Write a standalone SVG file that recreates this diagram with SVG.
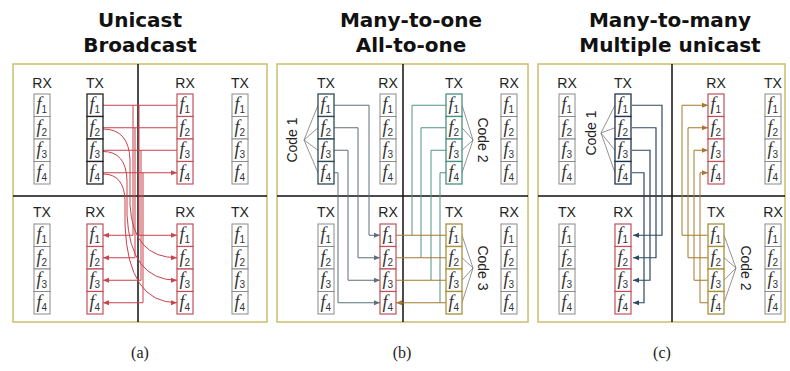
<svg xmlns="http://www.w3.org/2000/svg" width="790" height="371" viewBox="0 0 790 371">
<style>
.t{font-family:"DejaVu Sans",sans-serif;font-weight:bold;font-size:20px;text-anchor:middle;fill:#111}
.cap{font-family:"Liberation Serif",serif;font-size:16px;text-anchor:middle;fill:#222}
.lb{font-family:"Liberation Sans",sans-serif;font-size:14px;text-anchor:middle;fill:#222}
.cd{font-family:"Liberation Sans",sans-serif;font-size:14px;text-anchor:middle;fill:#222}
.fr{fill:#fff;stroke:#cbbd6e;stroke-width:1.5}
.dv{stroke:#111;stroke-width:1.5;fill:none}
.bx{fill:#fff}
.fv{font-family:"Liberation Serif",serif;font-style:italic;font-size:18px;fill:#333}
.sb{font-family:"Liberation Sans",sans-serif;font-size:10px;fill:#333}
.cg{stroke:#8a8a8a;stroke-width:1}
.cr{stroke:#c0505a;stroke-width:1.2}
.ck{stroke:#222;stroke-width:1.3}
.cs{stroke:#2f4a57;stroke-width:1.3}
.ct{stroke:#4a8f80;stroke-width:1.3}
.co{stroke:#a8913e;stroke-width:1.3}
.cn{stroke:#1f3550;stroke-width:1.3}
.lr{stroke:#c8424c;stroke-width:1;fill:none}
.lg{stroke:#5d6f78;stroke-width:1;fill:none}
.lt{stroke:#4f9585;stroke-width:1;fill:none}
.lo{stroke:#a57a2c;stroke-width:1;fill:none}
.ln{stroke:#2d4860;stroke-width:1.2;fill:none}
.lc{stroke:#777;stroke-width:0.8;fill:none}
</style>
<defs>
<marker id="ar" markerWidth="7" markerHeight="6" refX="6" refY="3" orient="auto" markerUnits="userSpaceOnUse"><path d="M0,0.5L6,3L0,5.5z" fill="#c8424c"/></marker>
<marker id="ag" markerWidth="7" markerHeight="6" refX="6" refY="3" orient="auto" markerUnits="userSpaceOnUse"><path d="M0,0.5L6,3L0,5.5z" fill="#5d6f78"/></marker>
<marker id="ao" markerWidth="7" markerHeight="6" refX="6" refY="3" orient="auto" markerUnits="userSpaceOnUse"><path d="M0,0.5L6,3L0,5.5z" fill="#a57a2c"/></marker>
<marker id="an" markerWidth="7" markerHeight="6" refX="6" refY="3" orient="auto" markerUnits="userSpaceOnUse"><path d="M0,0.5L6,3L0,5.5z" fill="#2d4860"/></marker>
<g id="col">
<rect class="bx" x="0" y="0" width="16" height="22.5"/>
<rect class="bx" x="0" y="22.5" width="16" height="22.5"/>
<rect class="bx" x="0" y="45" width="16" height="22.5"/>
<rect class="bx" x="0" y="67.5" width="16" height="22.5"/>
<g stroke="none">
<text x="2.5" y="16"><tspan class="fv">f</tspan><tspan class="sb" dy="3">1</tspan></text>
<text x="2.5" y="38.5"><tspan class="fv">f</tspan><tspan class="sb" dy="3">2</tspan></text>
<text x="2.5" y="61"><tspan class="fv">f</tspan><tspan class="sb" dy="3">3</tspan></text>
<text x="2.5" y="83.5"><tspan class="fv">f</tspan><tspan class="sb" dy="3">4</tspan></text>
</g>
</g>
</defs>

<g id="titles">
<text class="t" x="140" y="27">Unicast</text>
<text class="t" x="140" y="52">Broadcast</text>
<text class="t" x="411" y="27">Many-to-one</text>
<text class="t" x="411" y="52">All-to-one</text>
<text class="t" x="670" y="27">Many-to-many</text>
<text class="t" x="670" y="52">Multiple unicast</text>
<text class="cap" x="140" y="358">(a)</text>
<text class="cap" x="402" y="358">(b)</text>
<text class="cap" x="662" y="358">(c)</text>
</g>

<g id="frames">
<rect class="fr" x="13" y="64" width="254" height="258"/>
<path class="dv" d="M138,64V322M13,196H267"/>
<rect class="fr" x="277" y="64" width="251" height="258"/>
<path class="dv" d="M403,64V322M277,196H528"/>
<rect class="fr" x="538" y="64" width="247" height="258"/>
<path class="dv" d="M672,64V322M538,196H785"/>
</g>

<g id="connectors">
<path class="lr" marker-end="url(#ar)" d="M103,105.25H177M103,127.75H177M103,150.25H177M103,172.75H177"/>
<path class="lr" marker-end="url(#ar)" d="M133,105.25V235.25H103"/>
<path class="lr" marker-end="url(#ar)" d="M135,127.75V257.75H103"/>
<path class="lr" marker-end="url(#ar)" d="M141,150.25V280.25H103"/>
<path class="lr" marker-end="url(#ar)" d="M143,172.75V302.75H103"/>
<path class="lr" marker-end="url(#ar)" d="M139,105.25V235.25H177"/>
<path class="lr" marker-end="url(#ar)" d="M103,129Q129,129 130,160V205Q133,257.75 177,257.75"/>
<path class="lr" marker-end="url(#ar)" d="M103,151.5Q126,151.5 127,180V215Q130,280.25 177,280.25"/>
<path class="lr" marker-end="url(#ar)" d="M103,174Q124,174 125,200V225Q128,302.75 177,302.75"/>

<path class="lg" marker-end="url(#ag)" d="M334,105.25H369V235.25H380"/>
<path class="lg" marker-end="url(#ag)" d="M334,127.75H358V257.75H380"/>
<path class="lg" marker-end="url(#ag)" d="M334,150.25H348V280.25H380"/>
<path class="lg" marker-end="url(#ag)" d="M334,172.75H338V302.75H380"/>
<path class="lt" d="M446,105.25H412V235.25"/>
<path class="lt" d="M446,127.75H421V257.75"/>
<path class="lt" d="M446,150.25H431V280.25"/>
<path class="lt" d="M446,172.75H440V302.75"/>
<path class="lo" marker-end="url(#ao)" d="M446,235.25H396M446,257.75H396M446,280.25H396M446,302.75H396"/>
<path class="lc" d="M318,105.25L304,140L318,127.75M318,150.25L304,140L318,172.75"/>
<path class="lc" d="M462,105.25L473,140L462,127.75M462,150.25L473,140L462,172.75"/>
<path class="lc" d="M462,235.25L473,268L462,257.75M462,280.25L473,268L462,302.75"/>

<path class="ln" marker-end="url(#an)" d="M632,105.25H662V235.25H633"/>
<path class="ln" marker-end="url(#an)" d="M632,127.75H656V257.75H633"/>
<path class="ln" marker-end="url(#an)" d="M632,150.25H650V280.25H633"/>
<path class="ln" marker-end="url(#an)" d="M632,172.75H644V302.75H633"/>
<path class="lo" marker-end="url(#ao)" d="M708,235.25H682V105.25H708"/>
<path class="lo" marker-end="url(#ao)" d="M708,257.75H688V127.75H708"/>
<path class="lo" marker-end="url(#ao)" d="M708,280.25H694V150.25H708"/>
<path class="lo" marker-end="url(#ao)" d="M708,302.75H700V172.75H708"/>
<path class="lc" d="M615,105.25L601,133L615,127.75M615,150.25L601,133L615,172.75"/>
<path class="lc" d="M724,235.25L736,268L724,257.75M724,280.25L736,268L724,302.75"/>
</g>

<g id="codes">
<text class="cd" transform="translate(297,140) rotate(-90)">Code 1</text>
<text class="cd" transform="translate(478,140) rotate(90)">Code 2</text>
<text class="cd" transform="translate(478,268) rotate(90)">Code 3</text>
<text class="cd" transform="translate(596,133) rotate(-90)">Code 1</text>
<text class="cd" transform="translate(741,268) rotate(90)">Code 2</text>
</g>

<g id="a-top-rx"><text class="lb" x="42" y="88">RX</text><use href="#col" class="cg" x="34" y="94"/></g>
<g id="a-top-tx"><text class="lb" x="95" y="88">TX</text><use href="#col" class="ck" x="87" y="94"/></g>
<g id="a-top-rx2"><text class="lb" x="185" y="88">RX</text><use href="#col" class="cr" x="177" y="94"/></g>
<g id="a-top-tx2"><text class="lb" x="240" y="88">TX</text><use href="#col" class="cg" x="232" y="94"/></g>
<g id="a-bot-tx"><text class="lb" x="42" y="217">TX</text><use href="#col" class="cg" x="34" y="224"/></g>
<g id="a-bot-rx"><text class="lb" x="95" y="217">RX</text><use href="#col" class="cr" x="87" y="224"/></g>
<g id="a-bot-rx2"><text class="lb" x="185" y="217">RX</text><use href="#col" class="cr" x="177" y="224"/></g>
<g id="a-bot-tx2"><text class="lb" x="240" y="217">TX</text><use href="#col" class="cg" x="232" y="224"/></g>
<g id="b-top-tx"><text class="lb" x="326" y="88">TX</text><use href="#col" class="cs" x="318" y="94"/></g>
<g id="b-top-rx"><text class="lb" x="388" y="88">RX</text><use href="#col" class="cg" x="380" y="94"/></g>
<g id="b-top-tx2"><text class="lb" x="454" y="88">TX</text><use href="#col" class="ct" x="446" y="94"/></g>
<g id="b-top-rx2"><text class="lb" x="509" y="88">RX</text><use href="#col" class="cg" x="501" y="94"/></g>
<g id="b-bot-tx"><text class="lb" x="326" y="217">TX</text><use href="#col" class="cg" x="318" y="224"/></g>
<g id="b-bot-rx"><text class="lb" x="388" y="217">RX</text><use href="#col" class="cr" x="380" y="224"/></g>
<g id="b-bot-tx2"><text class="lb" x="454" y="217">TX</text><use href="#col" class="co" x="446" y="224"/></g>
<g id="b-bot-rx2"><text class="lb" x="509" y="217">RX</text><use href="#col" class="cg" x="501" y="224"/></g>
<g id="c-top-rx"><text class="lb" x="567" y="88">RX</text><use href="#col" class="cg" x="559" y="94"/></g>
<g id="c-top-tx"><text class="lb" x="623" y="88">TX</text><use href="#col" class="cn" x="615" y="94"/></g>
<g id="c-top-rx2"><text class="lb" x="716" y="88">RX</text><use href="#col" class="cr" x="708" y="94"/></g>
<g id="c-top-tx2"><text class="lb" x="773" y="88">TX</text><use href="#col" class="cg" x="765" y="94"/></g>
<g id="c-bot-tx"><text class="lb" x="567" y="217">TX</text><use href="#col" class="cg" x="559" y="224"/></g>
<g id="c-bot-rx"><text class="lb" x="623" y="217">RX</text><use href="#col" class="cr" x="615" y="224"/></g>
<g id="c-bot-tx2"><text class="lb" x="716" y="217">TX</text><use href="#col" class="co" x="708" y="224"/></g>
<g id="c-bot-rx2"><text class="lb" x="773" y="217">RX</text><use href="#col" class="cg" x="765" y="224"/></g>
</svg>
